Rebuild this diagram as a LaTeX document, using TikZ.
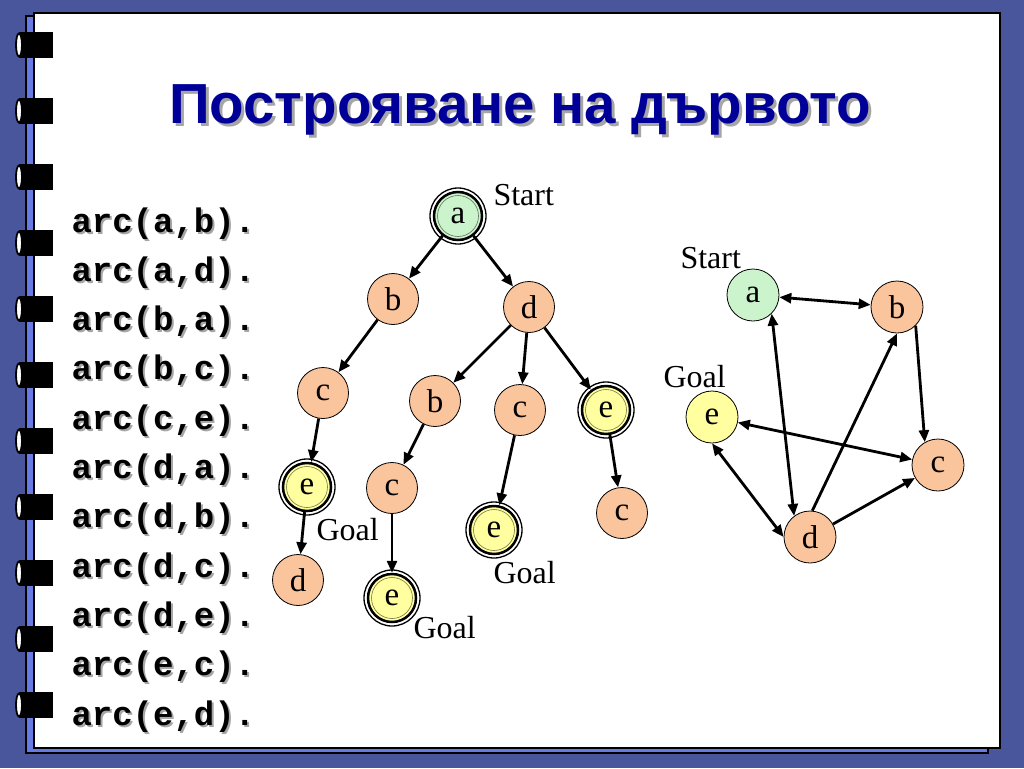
\documentclass[tikz,border=0pt]{standalone}
\usepackage{fontspec}
\setmainfont{Liberation Serif}
\newfontfamily\titlefont{Liberation Sans}
\newfontfamily\codefont{Liberation Mono}
\usetikzlibrary{arrows.meta}
\definecolor{bgblue}{RGB}{74,86,156}
\definecolor{stripblue}{RGB}{104,122,228}
\definecolor{titleblue}{RGB}{0,0,153}
\definecolor{peach}{RGB}{250,196,156}
\definecolor{mint}{RGB}{204,244,204}
\definecolor{lemon}{RGB}{255,255,160}
\tikzset{
  >={Triangle[length=12pt,width=10pt]},
  edge/.style={line width=2.8pt, ->},
  bidir/.style={line width=2.8pt, <->},
  vnode/.style={circle, draw=black, line width=0.8pt, fill=peach, minimum size=51pt, inner sep=0pt, font=\fontsize{33}{33}\selectfont},
  startnode/.style={vnode, fill=mint},
  goalnode/.style={vnode, fill=lemon},
  ringed/.style={minimum size=48pt, line width=2.5pt},
  lbl/.style={anchor=base west, font=\fontsize{32}{32}\selectfont},
  code/.style={anchor=base west, font=\codefont\bfseries\fontsize{34}{36}\selectfont},
  codeshadow/.style={code, text=black!35},
  titletext/.style={font=\titlefont\bfseries\fontsize{56.5}{60}\selectfont},
}
\newcommand{\ringaround}[2]{%
  \draw[line width=1.3pt] (#1) circle (28);
  \draw[line width=0.6pt, draw=black!55!#2] (#1) circle (20.5);}
\begin{document}
\begin{tikzpicture}[x=1pt,y=-1pt]
\useasboundingbox (0,0) rectangle (1024,768);
\fill[bgblue] (0,0) rectangle (1024,768);
% pages
\filldraw[fill=stripblue, draw=black, line width=2.5pt] (26,16) rectangle (988,753);
\filldraw[fill=white, draw=black, line width=2.5pt] (34,13) rectangle (1000,748);
% binder rings
\foreach \k in {0,...,10} {
  \pgfmathsetmacro{\yy}{45+66*\k}
  \fill[black] (19,\yy-13) rectangle (53,\yy+13);
  \filldraw[fill=white, draw=black, line width=1.8pt] (19,\yy) ellipse (3 and 11.5);
}
% title
\node[titletext, text=black!35] (titleshadow) at (523,113) {Построяване на дървото};
\node[titletext, text=titleblue] (title) at (520,110) {Построяване на дървото};
% code
\foreach \t [count=\i from 0] in {arc(a{,}b).,arc(a{,}d).,arc(b{,}a).,arc(b{,}c).,arc(c{,}e).,arc(d{,}a).,arc(d{,}b).,arc(d{,}c).,arc(d{,}e).,arc(e{,}c).,arc(e{,}d).} {
  \pgfmathsetmacro{\yy}{232+49.3*\i}
  \node[codeshadow] (cs\i) at (70,\yy+2) {\t};
  \node[code] (c\i) at (68,\yy) {\t};
}
% search tree
\node[startnode, ringed] (ta) at (458,216) {a};
\node[vnode] (tb) at (393,299) {b};
\node[vnode] (td) at (529,307) {d};
\node[vnode] (tc1) at (323,393) {c};
\node[vnode] (tb2) at (435,401) {b};
\node[vnode] (tc2) at (520,410) {c};
\node[goalnode, ringed] (te1) at (606,410) {e};
\node[goalnode, ringed] (te2) at (307,487) {e};
\node[vnode] (tc3) at (392,488) {c};
\node[goalnode, ringed] (te3) at (494,530) {e};
\node[vnode] (tc4) at (622,513) {c};
\node[vnode] (td2) at (298,580) {d};
\node[goalnode, ringed] (te4) at (392,598) {e};
\ringaround{ta}{mint}
\ringaround{te1}{lemon}
\ringaround{te2}{lemon}
\ringaround{te3}{lemon}
\ringaround{te4}{lemon}
\draw[edge] (ta) -- (tb);
\draw[edge] (ta) -- (td);
\draw[edge] (tb) -- (tc1);
\draw[edge] (td) -- (tb2);
\draw[edge] (td) -- (tc2);
\draw[edge] (td) -- (te1);
\draw[edge] (tc1) -- (te2);
\draw[edge] (te2) -- (td2);
\draw[edge] (tb2) -- (tc3);
\draw[edge] (tc3) -- (te4);
\draw[edge] (tc2) -- (te3);
\draw[edge] (te1) -- (tc4);
\node[lbl] (tstart) at (490,205) {Start};
\node[lbl] (tgoal1) at (313,540) {Goal};
\node[lbl] (tgoal2) at (490,583) {Goal};
\node[lbl] (tgoal3) at (410,638) {Goal};
% state graph
\node[startnode, minimum size=52pt] (ga) at (753,295) {a};
\node[vnode, minimum size=52pt] (gb) at (897,307) {b};
\node[goalnode, minimum size=52pt] (ge) at (712,417) {e};
\node[vnode, minimum size=52pt] (gc) at (938,465) {c};
\node[vnode, minimum size=52pt] (gd) at (810,537) {d};
\node[lbl] (gstart) at (677,268) {Start};
\node[lbl] (ggoal) at (660,387) {Goal};
\draw[bidir] (ga) -- (gb);
\draw[bidir] (ga.-45) -- (gd.127);
\draw[edge] (gd.85) -- (gb.-90);
\draw[edge] (gb.-45) -- (gc.120);
\draw[bidir] (ge) -- (gc);
\draw[bidir] (ge.south) -- (gd.west);
\draw[edge] (gd) -- (gc);
\end{tikzpicture}
\end{document}
